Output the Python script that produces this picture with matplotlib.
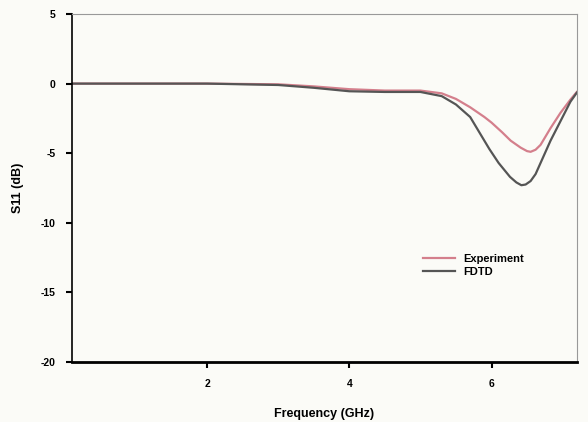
import numpy as np
import matplotlib.pyplot as plt

# S11 values
freq_exp = [0.1, 1.0, 2.0, 3.0, 3.5, 4.0, 4.5, 5.0, 5.3, 5.5, 5.7, 5.9, 6.0, 6.15, 6.27, 6.41, 6.5, 6.55, 6.62, 6.69, 6.83, 6.97, 7.11, 7.2]
s11_exp = [0.0, 0.0, 0.0, -0.05, -0.2, -0.4, -0.5, -0.5, -0.7, -1.1, -1.7, -2.4, -2.8, -3.5, -4.1, -4.6, -4.85, -4.9, -4.75, -4.4, -3.2, -2.1, -1.15, -0.6]

freq_fdtd = [0.1, 1.0, 2.0, 3.0, 3.5, 4.0, 4.5, 5.0, 5.3, 5.5, 5.7, 5.97, 6.1, 6.26, 6.35, 6.42, 6.48, 6.55, 6.62, 6.69, 6.83, 6.97, 7.11, 7.2]
s11_fdtd = [0.0, 0.0, 0.0, -0.1, -0.3, -0.55, -0.6, -0.6, -0.9, -1.5, -2.4, -4.7, -5.7, -6.7, -7.1, -7.3, -7.25, -7.0, -6.5, -5.7, -4.1, -2.7, -1.3, -0.65]

plt.rcParams['font.family'] = ['Liberation Sans', 'DejaVu Sans']
plt.rcParams['font.weight'] = 'bold'
plt.rcParams['axes.unicode_minus'] = False

fig = plt.figure(figsize=(5.88, 4.22), dpi=100, facecolor='#fbfbf7')
ax = fig.add_axes([0.1224, 0.1422, 0.8586, 0.8246])
ax.set_facecolor('#fbfbf7')

ax.plot(freq_exp, s11_exp, color='#d47f8c', lw=1.6, label='Experiment')
ax.plot(freq_fdtd, s11_fdtd, color='#555555', lw=1.6, label='FDTD')

ax.set_xlim(0.1, 7.2)
ax.set_ylim(-20, 5)
ax.set_xticks([2, 4, 6])
ax.set_yticks([5, 0, -5, -10, -15, -20])
ax.tick_params(axis='both', labelsize=7.5, length=4, width=1.5, direction='out', pad=8)

for side in ['top', 'right']:
    ax.spines[side].set_color('#999999')
    ax.spines[side].set_linewidth(0.8)
ax.spines['left'].set_linewidth(1.2)
ax.spines['bottom'].set_linewidth(2.0)

ax.set_xlabel('Frequency (GHz)', fontsize=9, fontweight='bold', labelpad=14)
ax.set_ylabel('S11 (dB)', fontsize=9, fontweight='bold', labelpad=12)

ax.legend(loc='upper left', bbox_to_anchor=(0.676, 0.34), frameon=False,
          fontsize=8, handlelength=2.9, handletextpad=0.7, labelspacing=0.3)

fig.savefig('out.png', dpi=100, facecolor=fig.get_facecolor())
